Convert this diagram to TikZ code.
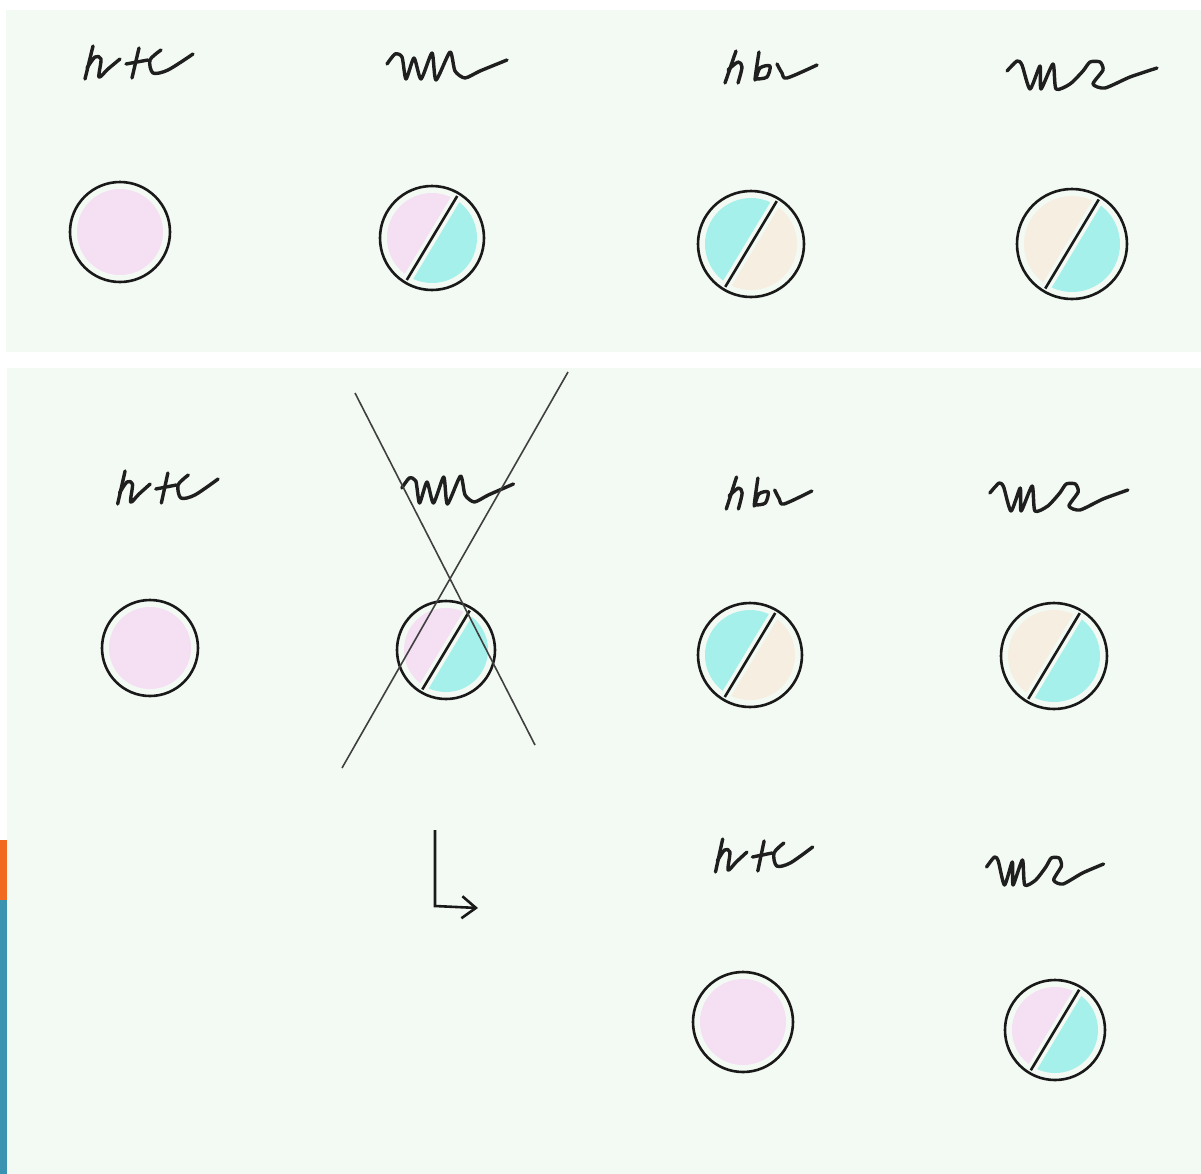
\documentclass[tikz,border=0pt]{standalone}
\usepackage{tikz}
\usetikzlibrary{arrows.meta}
\definecolor{paper}{HTML}{F3FAF3}
\definecolor{pinkfill}{HTML}{F4DFF3}
\definecolor{cyanfill}{HTML}{A6F0EB}
\definecolor{beigefill}{HTML}{F6EEE0}
\definecolor{tabover}{HTML}{F26A1F}
\definecolor{tabunder}{HTML}{3A94B1}
\newcommand{\plaindisc}[4]{%
  \fill[#4] (#1,#2) circle[radius=#3-7];
  \draw[ink] (#1,#2) circle[radius=#3];}
\newcommand{\halfdisc}[5]{%
  \begin{scope}[shift={(#1,#2)}]
    \begin{scope}
      \clip (0,0) circle[radius=#3-7];
      \fill[#4, shift={(-149:5)}] (-59:90) -- (121:90) -- ++(-149:120) -- ++(-59:180) -- cycle;
      \fill[#5, shift={(31:5)}] (-59:90) -- (121:90) -- ++(31:120) -- ++(-59:180) -- cycle;
    \end{scope}
    \draw[ink] (0,0) circle[radius=#3];
    \draw[ink] (121:{#3-3}) -- (-59:{#3-3});
  \end{scope}}

\begin{document}
\begin{tikzpicture}[
  x=0.5pt, y=-0.5pt,
  ink/.style={draw=black!90, line width=1.3pt},
  scrawl/.style={draw=black!88, line width=1.7pt, line cap=round, line join=round},
  pencil/.style={draw=black!75, line width=0.8pt},
  pics/nrc/.style={code={
    \draw[scrawl] (13,1) -- (5,34);
    \draw[scrawl] plot[smooth, tension=0.5] coordinates {(7,23) (15,12) (21,14) (19,32) (28,24) (40,14)};
    \draw[scrawl] (59,3) -- (52,33);
    \draw[scrawl] (46,19) -- (68,15);
    \draw[scrawl] plot[smooth, tension=0.5] coordinates {(81,5) (70,15) (73,28) (88,25) (113,9)};
  }},
  pics/nuu/.style={code={
    \draw[scrawl] plot[smooth, tension=0.4] coordinates {(2,14) (10,4) (17,7) (21,29) (29,8) (36,29) (47,3) (51,30) (65,2) (70,21) (80,28) (95,21) (122,10)};
  }},
  pics/hbr/.style={code={
    \draw[scrawl] (21,1) -- (10,33);
    \draw[scrawl] plot[smooth, tension=0.5] coordinates {(13,20) (23,12) (27,17) (23,33)};
    \draw[scrawl] plot[smooth, tension=0.5] coordinates {(44,2) (40,30) (45,18) (55,16) (52,27) (42,29)};
    \draw[scrawl] plot[smooth, tension=0.5] coordinates {(62,14) (67,23) (72,28) (102,15)};
  }},
  pics/zue/.style={code={
    \draw[scrawl] plot[smooth, tension=0.4] coordinates {(2,11) (12,1) (17,5) (25,29) (35,6) (36,29) (48,4) (51,29) (65,24) (78,11) (85,2) (95,2) (98,10) (88,24) (100,28) (125,17) (152,8)};
  }}
]
\useasboundingbox (0,0) rectangle (1201,1174);
\fill[white] (0,0) rectangle (1201,1174);
% paper panels
\fill[paper] (6,10) rectangle (1201,352);
\fill[paper] (7,368) rectangle (1201,1174);
\fill[tabover] (0,840) rectangle (7,900);
\fill[tabunder] (0,900) rectangle (7,1174);

% upper row
\pic at (80,45) {nrc};
\pic at (385,50) {nuu};
\pic at (715,50) {hbr};
\pic at (1005,60) {zue};
\plaindisc{120}{232}{50}{pinkfill}
\halfdisc{432}{238}{52}{pinkfill}{cyanfill}
\halfdisc{751}{244}{53}{cyanfill}{beigefill}
\halfdisc{1072}{244}{55}{beigefill}{cyanfill}

% lower row
\pic[xscale=0.93] at (113,470) {nrc};
\pic[xscale=0.93] at (400,474) {nuu};
\pic[xscale=0.93] at (717,476) {hbr};
\pic[xscale=0.92] at (988,482) {zue};
\plaindisc{150}{648}{48}{pinkfill}
\halfdisc{446}{650}{49}{pinkfill}{cyanfill}
\halfdisc{750}{655}{52}{cyanfill}{beigefill}
\halfdisc{1054}{656}{53}{beigefill}{cyanfill}
\draw[pencil] (355,393) -- (535,745);
\draw[pencil] (568,372) -- (342,768);

% result
\draw[ink, -{Straight Barb[length=7pt, width=11pt]}] (435,830) -- (435,906) -- (478,908);
\pic[xscale=0.9] at (711,838) {nrc};
\pic[xscale=0.78] at (985,856) {zue};
\plaindisc{743}{1022}{50}{pinkfill}
\halfdisc{1055}{1030}{50}{pinkfill}{cyanfill}
\end{tikzpicture}
\end{document}
